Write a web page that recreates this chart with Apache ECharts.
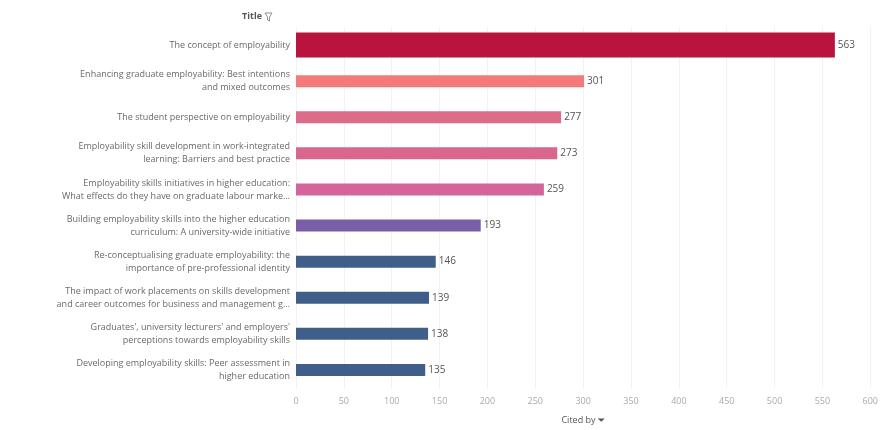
<!DOCTYPE html>
<html>
<head>
<meta charset="utf-8">
<script src="https://cdn.jsdelivr.net/npm/echarts@6/dist/echarts.min.js"></script>
<style>html,body{margin:0;padding:0;background:#fff;}#c{width:881px;height:430px;}</style>
</head>
<body>
<div id="c"></div>
<script>
var titles = [
  "The concept of employability",
  "Enhancing graduate employability: Best intentions\nand mixed outcomes",
  "The student perspective on employability",
  "Employability skill development in work-integrated\nlearning: Barriers and best practice",
  "Employability skills initiatives in higher education:\nWhat effects do they have on graduate labour marke…",
  "Building employability skills into the higher education\ncurriculum: A university-wide initiative",
  "Re-conceptualising graduate employability: the\nimportance of pre-professional identity",
  "The impact of work placements on skills development\nand career outcomes for business and management g…",
  "Graduates', university lecturers' and employers'\nperceptions towards employability skills",
  "Developing employability skills: Peer assessment in\nhigher education"
];
var citedBy = [563, 301, 277, 273, 259, 193, 146, 139, 138, 135];
var xTicks = [0, 50, 100, 150, 200, 250, 300, 350, 400, 450, 500, 550, 600];
var barColors = ["#b8143e", "#f47a7a", "#dd6b8a", "#d9668c", "#d5649a", "#7a5ea8", "#3f5f8a", "#3f5f8a", "#3f5f8a", "#3f5f8a"];

var chart = echarts.init(document.getElementById('c'), null, {renderer: 'canvas'});
function item(i) { return {value: citedBy[i], itemStyle: {color: barColors[i]}}; }
var bigData = citedBy.map(function (v, i) { return i === 0 ? item(i) : '-'; });
var smallData = citedBy.map(function (v, i) { return i === 0 ? '-' : item(i); });
var lbl = {show: true, position: 'right', distance: 3, color: '#555', fontSize: 10, fontFamily: 'Open Sans'};

chart.setOption({
  animation: false,
  grid: {left: 296, right: 7, top: 27, bottom: 38, containLabel: false},
  xAxis: {
    type: 'value', min: 0, max: 600, interval: 50,
    axisLine: {show: false}, axisTick: {show: false},
    splitLine: {show: true, lineStyle: {color: '#f2f2f2', width: 1}},
    axisLabel: {color: '#aaa', fontSize: 9, fontFamily: 'Open Sans', margin: 9,
      formatter: function (v) { return xTicks.indexOf(v) >= 0 ? String(v) : ''; }},
    name: 'Cited by ⏷', nameLocation: 'middle', nameGap: 28,
    nameTextStyle: {color: '#555', fontSize: 9, fontFamily: 'Open Sans'}
  },
  yAxis: [{
    type: 'category', data: titles, inverse: true,
    axisLine: {show: false}, axisTick: {show: false},
    axisLabel: {color: '#6a6a6a', fontSize: 9, fontFamily: 'Open Sans', margin: 6, lineHeight: 13, align: 'right'}
  }, {
    type: 'category', data: titles, inverse: true, position: 'left',
    axisLine: {show: false}, axisTick: {show: false}, axisLabel: {show: false}, splitLine: {show: false}
  }],
  graphic: [
    {type: 'text', right: 881 - 262, top: 12, style: {text: 'Title', fill: '#555', fontSize: 9, fontFamily: 'Open Sans', fontWeight: 'bold'}},
    {type: 'polygon', shape: {points: [[265, 13], [272, 13], [269.5, 17], [269.5, 21], [267.5, 20], [267.5, 17]]}, style: {fill: 'none', stroke: '#777', lineWidth: 0.8}}
  ],
  series: [
    {type: 'bar', yAxisIndex: 1, data: bigData, barWidth: 25, label: lbl},
    {type: 'bar', yAxisIndex: 0, data: smallData, barWidth: 12, label: lbl}
  ]
});
</script>
</body>
</html>
